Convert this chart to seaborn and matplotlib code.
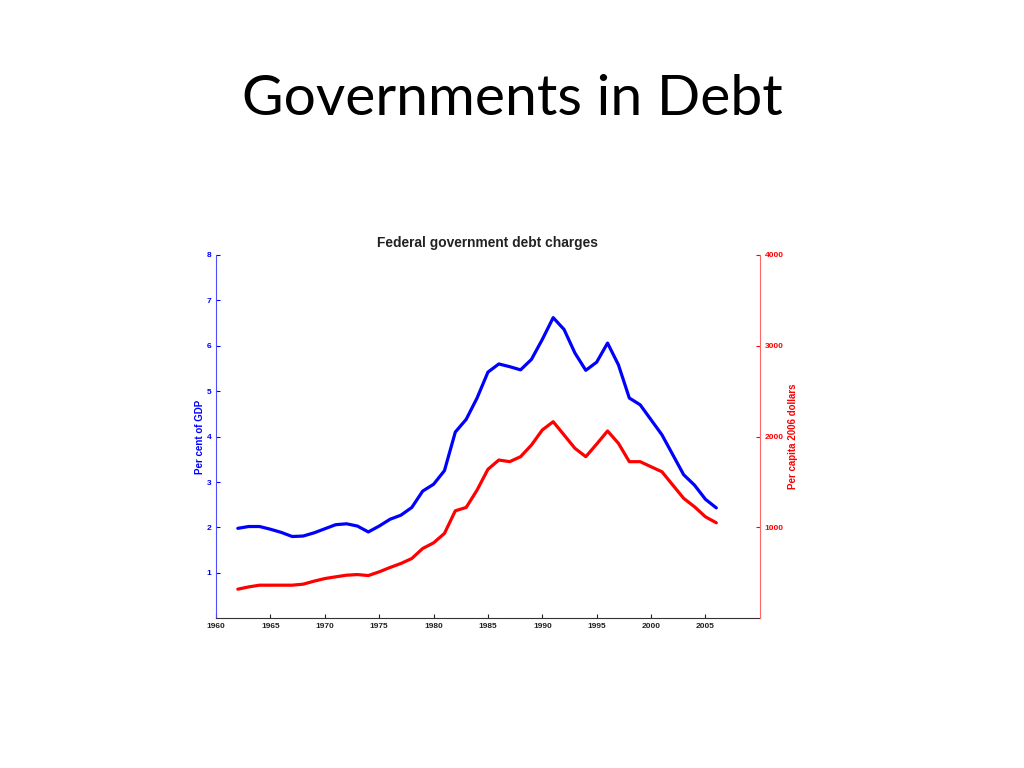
import numpy as np
import pandas as pd
import matplotlib
matplotlib.use("Agg")
import matplotlib.pyplot as plt
import seaborn as sns

sns.set_style("white")
plt.rcParams["font.family"] = ["Liberation Sans", "DejaVu Sans"]

years = list(range(1962, 2007))
pct_gdp = [1.98, 2.02, 2.02, 1.96, 1.89, 1.80, 1.81, 1.88, 1.97, 2.06, 2.08, 2.03, 1.90,
           2.03, 2.18, 2.27, 2.44, 2.80, 2.95, 3.25, 4.10, 4.38, 4.85, 5.42, 5.60, 5.54,
           5.47, 5.70, 6.14, 6.62, 6.36, 5.84, 5.46, 5.64, 6.06, 5.58, 4.85, 4.70, 4.37,
           4.04, 3.60, 3.16, 2.93, 2.62, 2.43]
per_capita = [320, 345, 364, 364, 364, 364, 375, 408, 437, 456, 474, 481, 470,
              511, 559, 603, 658, 768, 830, 934, 1183, 1220, 1411, 1640, 1742, 1724,
              1779, 1907, 2073, 2164, 2018, 1871, 1779, 1918, 2062, 1926, 1724, 1724, 1668,
              1613, 1466, 1320, 1227, 1117, 1051]

df = pd.DataFrame({"year": years, "pct_gdp": pct_gdp, "per_capita": per_capita})

fig = plt.figure(figsize=(10.24, 7.68), dpi=100)
fig.text(0.5, 0.87, "Governments in Debt", ha="center", va="center", fontsize=41,
         color="black", family=["Lato", "DejaVu Sans"])

ax = fig.add_axes([0.211, 0.195, 0.531, 0.473])
ax2 = ax.twinx()

sns.lineplot(data=df, x="year", y="pct_gdp", ax=ax, color="#0000ff", linewidth=2.3)
sns.lineplot(data=df, x="year", y="per_capita", ax=ax2, color="#ff0000", linewidth=2.3)

ax.set_xlim(1960, 2010)
ax.set_ylim(0, 8)
ax2.set_ylim(0, 4000)
ax.set_xticks(range(1960, 2010, 5))
ax.set_yticks(range(1, 9))
ax2.set_yticks([1000, 2000, 3000, 4000])

ax.set_xlabel("")
ax.set_ylabel("Per cent of GDP", color="#0000ff", fontsize=7, fontweight="bold", labelpad=1)
ax2.set_ylabel("Per capita 2006 dollars", color="#ff0000", fontsize=7, fontweight="bold", labelpad=3)
ax.set_title("Federal government debt charges", fontsize=9.9, fontweight="bold", color="#222222", pad=6)

for a in (ax, ax2):
    a.spines["top"].set_visible(False)
    for s in a.spines.values():
        s.set_linewidth(0.8)
ax.spines["right"].set_visible(False)
ax.spines["left"].set_color("#4d4dff")
ax.spines["bottom"].set_color("#333333")
ax2.spines["left"].set_visible(False)
ax2.spines["bottom"].set_visible(False)
ax2.spines["right"].set_color("#ff6666")

ax.tick_params(axis="y", direction="in", length=3, width=0.8, colors="#0000ff", labelsize=6, left=True)
ax.tick_params(axis="x", direction="in", length=3, width=0.8, colors="#222222", labelsize=6, bottom=True)
ax2.tick_params(axis="y", direction="in", length=3, width=0.8, colors="#ff0000", labelsize=6, right=True)
for lbl in ax.get_xticklabels() + ax.get_yticklabels() + ax2.get_yticklabels():
    lbl.set_fontweight("bold")

fig.savefig("out.png", dpi=100)
